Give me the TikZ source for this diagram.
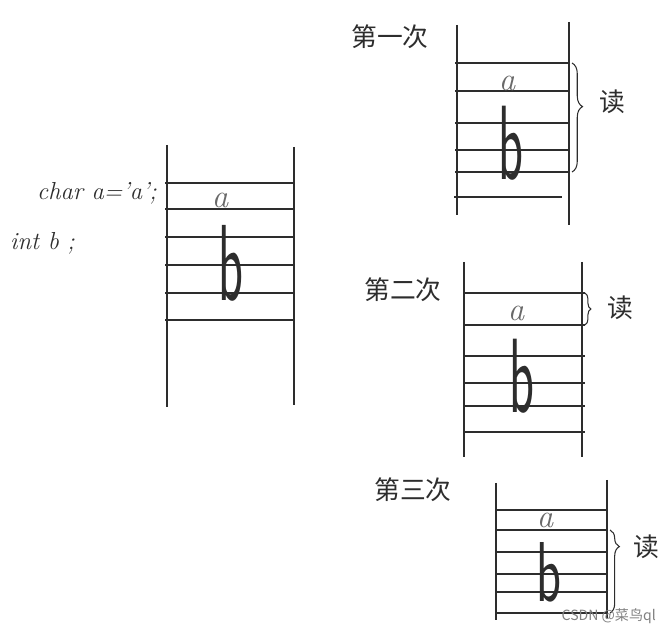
\documentclass[tikz,border=0pt]{standalone}
\usepackage{fontspec}
\newfontfamily\cjk{Noto Sans CJK SC}
\usetikzlibrary{decorations.pathreplacing}
\definecolor{inkgray}{RGB}{45,45,45}
\definecolor{pencilgray}{RGB}{105,105,105}
\tikzset{
  rail/.style={draw=inkgray, line width=1.3pt},
  rung/.style={draw=inkgray, line width=1.1pt},
  readbrace/.style 2 args={draw=inkgray, line width=0.9pt, decorate,
                           decoration={brace, amplitude=#1, aspect=#2}},
  cella/.style={font=\fontsize{28}{30}\selectfont\itshape, text=pencilgray, inner sep=0pt},
  cellb/.style={font=\fontsize{44}{46}\selectfont\sffamily, text=inkgray, inner sep=0pt},
  hand/.style={font=\fontsize{21}{23}\selectfont\itshape, text=inkgray, anchor=west, inner sep=0pt},
  passlbl/.style={font=\cjk\fontsize{22}{24}\selectfont, text=inkgray, inner sep=0pt},
  readlbl/.style={font=\cjk\fontsize{22}{24}\selectfont, text=inkgray, inner sep=0pt},
}

\begin{document}
\begin{tikzpicture}[x=0.03cm, y=-0.03cm]
\useasboundingbox (0,0) rectangle (662,626);

% declaration
\node[hand] (decl-a) at (37,193) {char a='a';};
\node[hand] (decl-b) at (10,243) {int b ;};

% memory layout
\draw[rail] (167,145) -- (167,407);
\draw[rail] (294,147) -- (294,405);
\foreach \y in {183,209,237,265,293,320}
  \draw[rung] (165,\y) -- (294,\y);
\node[cella] (mem-a) at (220,200) {a};
\node[cellb] (mem-b) at (231,263) {\scalebox{1}[2.1]{b}};

% first read
\node[passlbl] (pass1) at (390,37) {第一次};
\draw[rail] (457,25) -- (457,215);
\draw[rail] (569,22) -- (569,225);
\foreach \y in {63,91,123,150,172}
  \draw[rung] (455,\y) -- (569,\y);
\draw[rung] (454,197) -- (562,197);
\node[cella] (p1-a) at (507,83) {a};
\node[cellb] (p1-b) at (511,143) {\scalebox{1}[2.05]{b}};
\coordinate (p1-top) at (572,63);
\coordinate (p1-bot) at (572,172);
\draw[readbrace={9pt}{0.4}] (p1-top) -- (p1-bot);
\node[readlbl] (read1) at (612,102) {读};

% second read
\node[passlbl] (pass2) at (403,290) {第二次};
\draw[rail] (464,262) -- (464,457);
\draw[rail] (582,262) -- (582,457);
\foreach \y in {293,325,356,383,406,432}
  \draw[rung] (464,\y) -- (585,\y);
\node[cella] (p2-a) at (516,313) {a};
\node[cellb] (p2-b) at (522,376) {\scalebox{1}[2.05]{b}};
\coordinate (p2-top) at (585,293);
\coordinate (p2-bot) at (585,325);
\draw[readbrace={5pt}{0.5}] (p2-top) -- (p2-bot);
\node[readlbl] (read2) at (620,308) {读};

% third read
\node[passlbl] (pass3) at (413,490) {第三次};
\draw[rail] (496,483) -- (496,620);
\draw[rail] (607,480) -- (607,618);
\foreach \y in {510,530,552,574,592,613}
  \draw[rung] (496,\y) -- (607,\y);
\node[cella] (p3-a) at (545,520) {a};
\node[cellb] (p3-b) at (549,572) {\scalebox{1}[1.65]{b}};
\coordinate (p3-top) at (610,530);
\coordinate (p3-bot) at (610,613);
\draw[readbrace={8pt}{0.2}] (p3-top) -- (p3-bot);
\node[readlbl] (read3) at (646,547) {读};

% watermark
\node[font=\cjk\fontsize{12}{14}\selectfont, text=gray, anchor=east, inner sep=0pt]
  (mark) at (656,616) {CSDN @菜鸟ql};

\end{tikzpicture}
\end{document}
